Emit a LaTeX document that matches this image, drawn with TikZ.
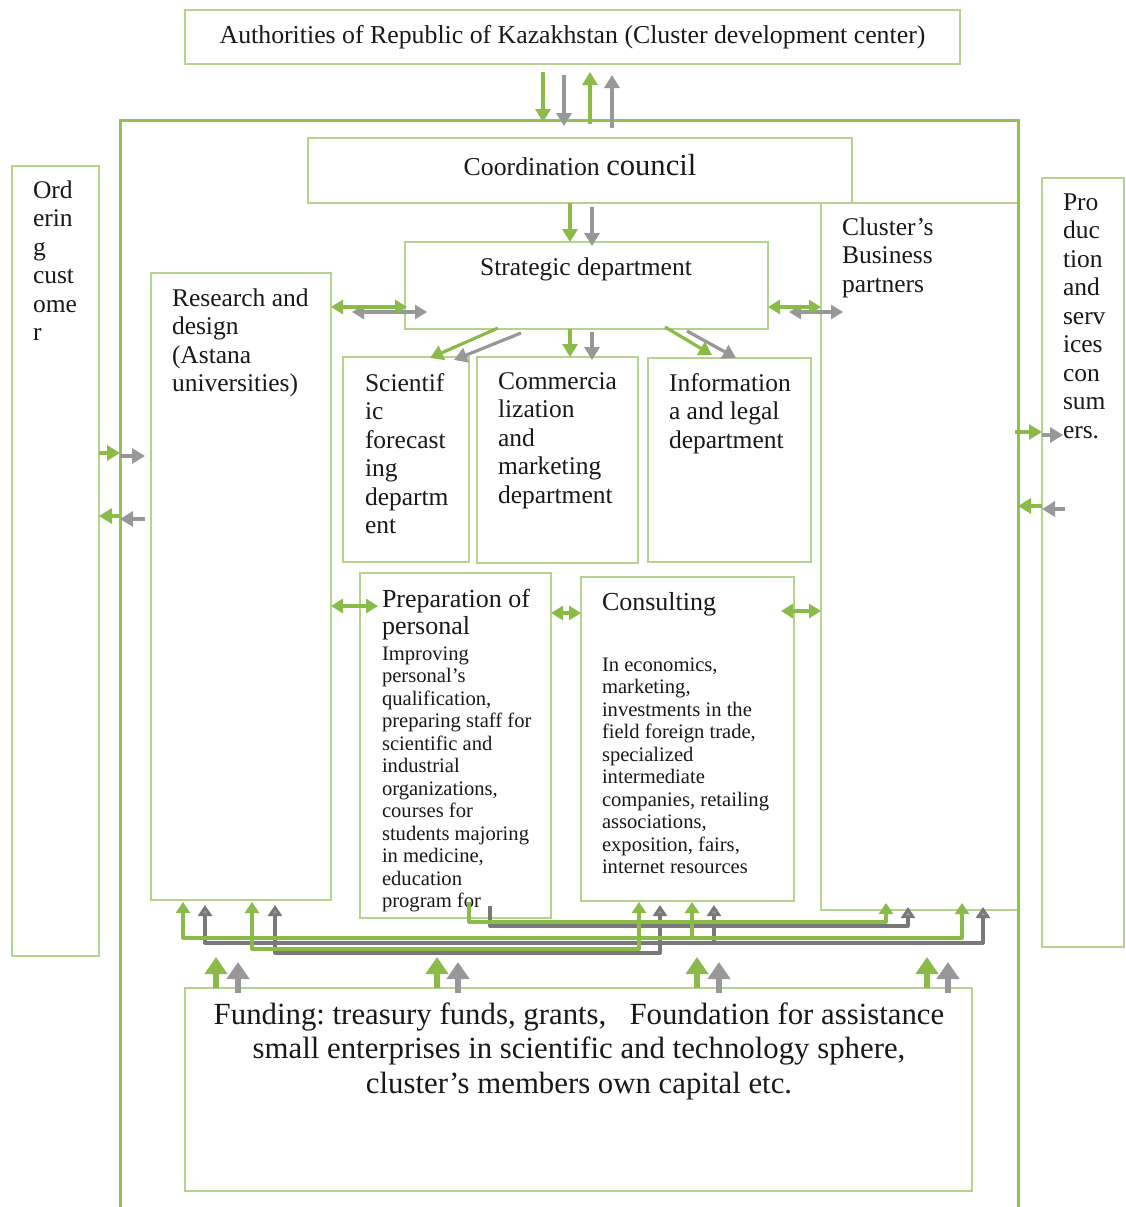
\documentclass[tikz,border=0pt]{standalone}
\usepackage{fontspec}
\setmainfont{Liberation Serif}
\usetikzlibrary{arrows.meta,calc}
\definecolor{boxgreen}{RGB}{182,211,142}
\definecolor{agreen}{RGB}{138,187,72}
\definecolor{fgreen}{RGB}{145,192,85}
\definecolor{agray}{RGB}{152,152,152}
\definecolor{lgray}{RGB}{120,120,120}
\definecolor{txt}{RGB}{25,25,25}
\begin{document}
\frenchspacing
\begin{tikzpicture}[x=1pt,y=-1pt,
  bx/.style={draw=boxgreen,line width=1.7pt,anchor=north west,inner sep=0pt,outer sep=0pt},
  lbl/.style={anchor=base west,inner sep=0pt,outer sep=0pt,text=txt,font=\fontsize{25.5}{28.5}\selectfont},
  smalltxt/.style={lbl,font=\fontsize{20.6}{22.5}\selectfont},
  headtxt/.style={lbl,font=\fontsize{26}{27}\selectfont},
  ga/.style={draw=agreen,line width=3.2pt,-{Triangle[length=13pt,width=15pt]}},
  gra/.style={draw=agray,line width=3.2pt,-{Triangle[length=13pt,width=15pt]}},
  gd/.style={draw=agreen,line width=3.2pt,{Triangle[length=12pt,width=14pt]}-{Triangle[length=12pt,width=14pt]}},
  grd/.style={draw=agray,line width=3.2pt,{Triangle[length=12pt,width=14pt]}-{Triangle[length=12pt,width=14pt]}},
  gl/.style={draw=agreen,line width=3.2pt,line join=round,-{Triangle[length=11pt,width=14pt]}},
  gll/.style={draw=lgray,line width=3.2pt,line join=round,-{Triangle[length=11pt,width=14pt,fill=agray]}},
  gl2/.style={draw=agreen,line width=3.2pt,line join=round,{Triangle[length=11pt,width=14pt]}-{Triangle[length=11pt,width=14pt]}},
  gll2/.style={draw=lgray,line width=3.2pt,line join=round,{Triangle[length=11pt,width=14pt,fill=agray]}-{Triangle[length=11pt,width=14pt,fill=agray]}},
  fa/.style={draw=agreen,line width=5.5pt,-{Triangle[length=17pt,width=22pt]}},
  fra/.style={draw=agray,line width=5.5pt,-{Triangle[length=17pt,width=22pt]}},
]
\useasboundingbox (0,0) rectangle (1125,1207);
\fill[white] (0,0) rectangle (1125,1207);

% frame corners
\coordinate (fT) at (120,120);
\coordinate (fTR) at (1018,120);
\coordinate (fBL) at (120,1207);
\coordinate (fBR) at (1018,1207);

% boxes
\node[bx,minimum width=775pt,minimum height=54pt] (auth) at (185,10) {};
\node[bx,minimum width=544pt,minimum height=65pt] (coord) at (308,138) {};
\node[bx,minimum width=197pt,minimum height=707pt] (part) at (821,203) {};
\node[bx,minimum width=87pt,minimum height=790pt] (ord) at (12,166) {};
\node[bx,minimum width=82pt,minimum height=769pt] (prod) at (1042,178) {};
\node[bx,minimum width=180pt,minimum height=627pt] (res) at (151,273) {};
\node[bx,minimum width=363pt,minimum height=87pt] (strat) at (405,242) {};
\node[bx,minimum width=126pt,minimum height=205pt] (sci) at (343,357) {};
\node[bx,minimum width=161pt,minimum height=206pt] (comm) at (477,357) {};
\node[bx,minimum width=163pt,minimum height=204pt] (info) at (648,358) {};
\node[bx,minimum width=191pt,minimum height=345pt] (prep) at (360,573) {};
\node[bx,minimum width=213pt,minimum height=324pt] (cons) at (581,577) {};
\node[bx,minimum width=787pt,minimum height=203pt] (fund) at (185,988) {};

% outer frame
\draw[fgreen,line width=3pt] (fBL) -- (fT) -- (fTR) -- (fBR);

% texts
\node[lbl,anchor=base,font=\fontsize{25.8}{28.5}\selectfont] (authT) at (572.5,44) {Authorities of Republic of Kazakhstan (Cluster development center)};
\node[lbl,anchor=base,font=\fontsize{25.8}{28.5}\selectfont] (coordT) at (580,175) {Coordination {\fontsize{30.6}{34}\selectfont council}};
\node[lbl,anchor=base] (stratT) at (586,275) {Strategic department};
\node[lbl] (ordT) at (33,198) {\begin{tabular}[t]{@{}l@{}}Ord\\erin\\g\\cust\\ome\\r\end{tabular}};
\node[lbl] (prodT) at (1063,210) {\begin{tabular}[t]{@{}l@{}}Pro\\duc\\tion\\and\\serv\\ices\\con\\sum\\ers.\end{tabular}};
\node[lbl] (partT) at (842,235) {\begin{tabular}[t]{@{}l@{}}Cluster’s\\Business\\partners\end{tabular}};
\node[lbl] (resT) at (172,306) {\begin{tabular}[t]{@{}l@{}}Research and\\design\\(Astana\\universities)\end{tabular}};
\node[lbl] (sciT) at (365,391) {\begin{tabular}[t]{@{}l@{}}Scientif\\ic\\forecast\\ing\\departm\\ent\end{tabular}};
\node[lbl] (commT) at (498,389) {\begin{tabular}[t]{@{}l@{}}Commercia\\lization\\and\\marketing\\department\end{tabular}};
\node[lbl] (infoT) at (669,391) {\begin{tabular}[t]{@{}l@{}}Information\\a and legal\\department\end{tabular}};
\begin{scope}
\clip (360,573) rectangle (551,911);
\node[headtxt] (prepH) at (382,607) {\begin{tabular}[t]{@{}l@{}}Preparation of\\personal\end{tabular}};
\node[smalltxt] (prepT) at (382,660) {\begin{tabular}[t]{@{}l@{}}Improving\\personal’s\\qualification,\\preparing staff for\\scientific and\\industrial\\organizations,\\courses for\\students majoring\\in medicine,\\education\\program for\end{tabular}};
\end{scope}
\node[headtxt] (consH) at (602,610) {Consulting};
\node[smalltxt] (consT) at (602,671) {\begin{tabular}[t]{@{}l@{}}In economics,\\marketing,\\investments in the\\field foreign trade,\\specialized\\intermediate\\companies, retailing\\associations,\\exposition, fairs,\\internet resources\end{tabular}};
\node[lbl,anchor=base,font=\fontsize{30.8}{34.5}\selectfont] (fundT) at (579,1024) {\begin{tabular}[t]{@{}c@{}}Funding: treasury funds, grants,\ \ \ Foundation for assistance\\small enterprises in scientific and technology sphere,\\cluster’s members own capital etc.\end{tabular}};

% authorities <-> frame
\draw[ga] ($(auth.south-|543,0)+(0,8)$) -- ($(fT-|543,0)+(0,2)$);
\draw[gra] ($(auth.south-|564,0)+(0,11)$) -- ($(fT-|564,0)+(0,6)$);
\draw[ga] ($(fT-|590,0)+(0,4)$) -- ($(auth.south-|590,0)+(0,8)$);
\draw[gra] ($(fT-|612,0)+(0,8)$) -- ($(auth.south-|612,0)+(0,11)$);

% coordination -> strategic
\draw[ga] (coord.south-|570,0) -- (strat.north-|570,0);
\draw[gra] ($(coord.south-|592,0)+(0,4)$) -- ($(strat.north-|592,0)+(0,4)$);

% strategic <-> research, partners
\draw[grd] ($(res.east|-0,312)+(21,0)$) -- ($(strat.west|-0,312)+(22,0)$);
\draw[gd] (res.east|-0,307) -- ($(strat.west|-0,307)+(2,0)$);
\draw[grd] ($(strat.east|-0,312)+(21,0)$) -- ($(part.west|-0,312)+(22,0)$);
\draw[gd] (strat.east|-0,307) -- (part.west|-0,307);

% strategic -> departments
\draw[gra] ($(strat.south west)+(116,4)$) -- ($(sci.north west)+(111,3)$);
\draw[ga] ($(strat.south west)+(93,-1)$) -- ($(sci.north west)+(87,1)$);
\draw[ga] (strat.south-|570,0) -- (comm.north-|570,0);
\draw[gra] ($(strat.south-|592,0)+(0,3)$) -- ($(comm.north-|592,0)+(0,3)$);
\draw[gra] ($(strat.south west)+(282,2)$) -- ($(info.north west)+(88,0)$);
\draw[ga] ($(strat.south west)+(260,-2)$) -- ($(info.north west)+(64,-3)$);

% horizontal links
\draw[gd] (res.east|-0,606) -- ($(prep.west|-0,606)+(18,0)$);
\draw[gd] (prep.east|-0,613) -- (cons.west|-0,613);
\draw[gd] ($(cons.east|-0,611)-(13,0)$) -- (part.west|-0,611);

% left side
\draw[ga] (ord.east|-0,453) -- (fT|-0,453);
\draw[gra] (fT|-0,456) -- ($(fT|-0,456)+(25,0)$);
\draw[ga] (fT|-0,516) -- (ord.east|-0,516);
\draw[gra] ($(fT|-0,519)+(25,0)$) -- (fT|-0,519);

% right side
\draw[ga] ($(fTR|-0,432)-(3,0)$) -- (prod.west|-0,432);
\draw[gra] (prod.west|-0,435) -- ($(prod.west|-0,435)+(21,0)$);
\draw[ga] (prod.west|-0,506) -- (fTR|-0,506);
\draw[gra] ($(prod.west|-0,509)+(23,0)$) -- (prod.west|-0,509);

% bottom network (gray)
\draw[gll] ($(prep.south-|490,0)+(0,-12)$) -- (490,926) -- (908,926) -- ($(part.south-|908,0)+(0,-3)$);
\draw[gll2] ($(res.south-|205,0)+(0,5)$) -- (205,943) -- (983,943) -- ($(part.south-|983,0)+(0,-3)$);
\draw[gll2] ($(res.south-|275,0)+(0,5)$) -- (275,953) -- (660,953) -- ($(cons.south-|660,0)+(0,4)$);
\draw[gll] (714,943) -- ($(cons.south-|714,0)+(0,4)$);
% bottom network (green)
\draw[gl] ($(prep.south-|469,0)+(0,-16)$) -- (469,922) -- (886,922) -- ($(part.south-|886,0)+(0,-7)$);
\draw[gl2] ($(res.south-|183,0)+(0,2)$) -- (183,938) -- (962,938) -- ($(part.south-|962,0)+(0,-7)$);
\draw[gl2] ($(res.south-|252,0)+(0,2)$) -- (252,949) -- (639,949) -- ($(cons.south-|639,0)+(0,1)$);
\draw[gl] (692,938) -- ($(cons.south-|692,0)+(0,1)$);

% funding arrows
\foreach \gx/\rx in {216/238,437/458,697/719,927/948}{
  \draw[fra] ($(fund.north-|\rx,0)+(0,5)$) -- ($(fund.north-|\rx,0)+(0,-26)$);
  \draw[fa] (fund.north-|\gx,0) -- ($(fund.north-|\gx,0)+(0,-31)$);
}
\end{tikzpicture}
\end{document}
